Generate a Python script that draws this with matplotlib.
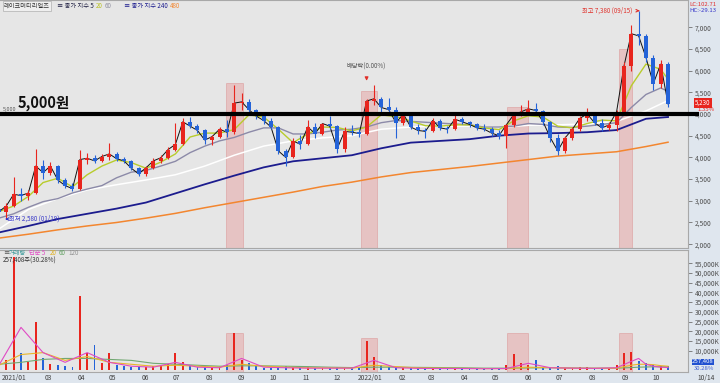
import pandas as pd
import matplotlib
matplotlib.use('Agg')
import matplotlib.pyplot as plt
import matplotlib.dates as mdates
from matplotlib.patches import Rectangle

plt.rcParams['font.family'] = ['Noto Sans CJK KR', 'DejaVu Sans']

# weekly candles (one per week, plotted mid-week)
opens = [2800, 2750, 2880, 3150, 3120, 3180, 3800, 3650, 3800, 3480,
         3350, 3280, 3950, 3980, 3920, 4020, 4080, 3970, 3920, 3750,
         3620, 3760, 3920, 3990, 4180, 4300, 4820, 4720, 4620, 4400,
         4480, 4650, 4580, 5250, 5280, 5100, 4950, 4850, 4700, 4150,
         4000, 4380, 4300, 4700, 4550, 4780, 4720, 4200, 4600, 4580,
         4550, 5300, 5350, 5150, 5100, 4800, 5000, 4700, 4620, 4600,
         4850, 4680, 4650, 4880, 4820, 4760, 4680, 4650, 4560, 4500,
         4750, 4980, 5050, 5120, 5080, 4820, 4450, 4150, 4450, 4650,
         4900, 5000, 4800, 4680, 4750, 5050, 6100, 6850, 6800, 6300,
         5700, 6150]
highs = [2900, 2950, 3550, 3300, 3250, 4200, 3950, 3900, 3820, 3520,
         3400, 4170, 4100, 4050, 4080, 4330, 4120, 4000, 3950, 3780,
         3800, 3980, 4050, 4250, 4790, 4900, 4920, 4760, 4650, 4520,
         4700, 4860, 5670, 5480, 5350, 5120, 5000, 4900, 4720, 4200,
         4450, 4520, 4860, 4800, 4800, 4950, 4750, 4700, 4750, 4650,
         5350, 5670, 5400, 5380, 5150, 5050, 5020, 4780, 4680, 4900,
         4880, 4720, 5000, 4920, 4850, 4800, 4760, 4700, 4620, 4780,
         5050, 5200, 5320, 5250, 5100, 4850, 4550, 4500, 4700, 4950,
         5140, 5050, 4880, 4820, 5100, 6200, 7050, 7380, 6850, 6350,
         6250, 6200]
lows = [2700, 2580, 2850, 3000, 3020, 3150, 3500, 3600, 3400, 3300,
        3220, 3250, 3850, 3880, 3900, 3950, 3920, 3880, 3700, 3560,
        3580, 3740, 3880, 3960, 4150, 4280, 4680, 4560, 4300, 4280,
        4440, 4480, 4550, 5100, 5050, 4880, 4780, 4650, 4080, 3800,
        3980, 4200, 4280, 4450, 4520, 4650, 4100, 4120, 4520, 4480,
        4520, 5200, 5050, 5020, 4450, 4750, 4650, 4550, 4450, 4580,
        4620, 4560, 4640, 4760, 4700, 4620, 4600, 4500, 4420, 4220,
        4700, 4950, 4980, 5000, 4750, 4350, 4050, 4100, 4400, 4600,
        4850, 4750, 4600, 4620, 4600, 5000, 6000, 6600, 6200, 5550,
        5600, 5150]
closes = [2750, 2880, 3150, 3120, 3180, 3800, 3650, 3800, 3480, 3350,
          3280, 3950, 3980, 3920, 4020, 4080, 3970, 3920, 3750, 3620,
          3760, 3920, 3990, 4180, 4300, 4820, 4720, 4620, 4400, 4480,
          4650, 4580, 5250, 5280, 5100, 4950, 4850, 4700, 4150, 4000,
          4380, 4300, 4700, 4550, 4780, 4720, 4200, 4600, 4580, 4550,
          5300, 5350, 5150, 5100, 4800, 5000, 4700, 4620, 4600, 4850,
          4680, 4650, 4880, 4820, 4760, 4680, 4650, 4560, 4500, 4750,
          4980, 5050, 5120, 5080, 4820, 4450, 4150, 4450, 4650, 4900,
          5000, 4800, 4680, 4750, 5050, 6100, 6850, 6800, 6300, 5700,
          6150, 5230]
# largest daily volume in each week, thousand shares
volumes = [2500, 5000, 58000, 9000, 4000, 25000, 6000, 3000, 2500, 2000,
           1800, 38000, 9000, 13000, 3500, 9000, 2500, 2000, 1500, 1500,
           1500, 2000, 2000, 3000, 9000, 4000, 2500, 1500, 1500, 1500,
           1800, 2500, 19000, 5000, 3500, 2000, 1200, 1200, 1800, 2000,
           1800, 1200, 1500, 1200, 1200, 1200, 1500, 1200, 1000, 1000,
           15000, 7000, 2500, 1500, 1500, 1200, 1000, 1000, 1000, 1200,
           1000, 800, 1200, 1000, 800, 800, 800, 800, 1000, 2500,
           8500, 3500, 2500, 5000, 1800, 1500, 2000, 1200, 1200, 1500,
           1500, 1200, 1000, 1200, 2500, 9000, 9500, 4500, 3500, 2500,
           2000, 2000]

# moving averages
fine_weeks = list(range(0, 92, 2)) + [91]
ma20 = [2750, 2880, 3100, 3420, 3520, 3320, 3600, 3800, 3940, 3880,
        3750, 3890, 4080, 4470, 4560, 4560, 4640, 4980, 4930, 4650,
        4340, 4540, 4700, 4690, 4610, 4700, 4980, 4940, 4840, 4730,
        4720, 4750, 4750, 4680, 4640, 4840, 4960, 4930, 4720, 4680,
        4780, 4860, 4840, 5650, 6150, 6030, 5800]
ma60 = [2600, 2700, 2850, 2980, 3050, 3180, 3270, 3350, 3530, 3660,
        3700, 3800, 3910, 4110, 4260, 4380, 4460, 4580, 4680, 4680,
        4540, 4540, 4580, 4630, 4650, 4700, 4800, 4850, 4830, 4810,
        4790, 4770, 4750, 4700, 4700, 4720, 4780, 4760, 4700, 4690,
        4720, 4760, 4800, 5150, 5450, 5600, 5520]
coarse_weeks = list(range(0, 92, 4)) + [91]
ma120 = [2350, 2800, 3050, 3250, 3370, 3480, 3600, 3800, 4050, 4260,
         4380, 4450, 4500, 4650, 4700, 4720, 4720, 4690, 4740, 4750,
         4770, 4830, 5070, 5310]
ma240 = [2270, 2420, 2580, 2700, 2820, 2960, 3170, 3380, 3580, 3770,
         3910, 3980, 4050, 4210, 4340, 4380, 4420, 4500, 4550, 4560,
         4580, 4630, 4890, 4930]
ma480 = [2140, 2230, 2330, 2420, 2500, 2600, 2710, 2840, 2960, 3080,
         3200, 3330, 3430, 3550, 3650, 3720, 3790, 3870, 3950, 4030,
         4080, 4130, 4250, 4350]

# volume moving averages (thousand shares)
vma_weeks = [0, 3, 6, 9, 12, 15, 18, 21, 24, 27, 30, 33, 36, 39, 42,
             45, 48, 51, 54, 57, 60, 63, 66, 69, 72, 75, 78, 81, 84,
             86, 87, 88, 89, 90, 91]
vma5 = [2500, 22000, 9000, 4000, 9000, 4000, 2000, 1500, 4000, 1500,
        1200, 6000, 1500, 1200, 1000, 1000, 1000, 5000, 1200, 900,
        800, 800, 700, 800, 3500, 1200, 1000, 900, 1200, 4500,
        6000, 3000, 2000, 1500, 1300]
vma20 = [2500, 8000, 9000, 5000, 7000, 4000, 3000, 2000, 2500, 2000,
         1500, 3000, 2000, 1500, 1200, 1100, 1000, 2500, 1800, 1100,
         1000, 900, 800, 800, 1500, 1300, 1000, 900, 1000, 2500,
         3000, 3000, 2800, 2300, 2000]
vma60 = [3000, 4000, 5500, 6000, 6000, 5500, 5000, 3500, 3000, 2500,
         2000, 2200, 2200, 2000, 1800, 1500, 1300, 1500, 1500, 1400,
         1300, 1200, 1000, 1000, 1100, 1200, 1100, 1000, 1000, 1300,
         1500, 1600, 1700, 1700, 1700]

# highlighted periods: start, end, top price, top volume
spans = [('2021-08-17', '2021-09-02', 5710, 19000),
         ('2021-12-24', '2022-01-08', 5530, 16500),
         ('2022-05-12', '2022-06-01', 5160, 19000),
         ('2022-08-26', '2022-09-08', 6500, 19000)]

weeks = pd.date_range('2021-01-13', periods=len(closes), freq='7D')
x = mdates.date2num(weeks)

UP = '#e8251e'
DOWN = '#2463d8'

fig = plt.figure(figsize=(7.2, 3.83), dpi=100)
fig.patch.set_facecolor('#dfe6ee')
ax = fig.add_axes([0, 1 - 248 / 383, 688 / 720, 248 / 383])
axv = fig.add_axes([0, 11 / 383, 688 / 720, 122 / 383], sharex=ax)
for a in (ax, axv):
    a.set_facecolor('#e6e6e6')
    for s in a.spines.values():
        s.set_color('#a8a8a8')
        s.set_linewidth(0.8)
    a.spines['left'].set_visible(False)

x0 = mdates.date2num(pd.Timestamp('2021-01-14'))
x1 = mdates.date2num(pd.Timestamp('2022-10-31'))
ax.set_xlim(x0, x1)
ax.set_ylim(1912, 7627)
axv.set_ylim(-980, 61840)

# highlighted periods
for start, end, ptop, vtop in spans:
    s = mdates.date2num(pd.Timestamp(start))
    e = mdates.date2num(pd.Timestamp(end))
    ax.add_patch(Rectangle((s, 1912), e - s, ptop - 1912, facecolor='#e7a7a7',
                           edgecolor='#d99090', lw=0.6, alpha=0.55, zorder=1))
    axv.add_patch(Rectangle((s, -980), e - s, vtop + 980, facecolor='#e7a7a7',
                            edgecolor='#d99090', lw=0.6, alpha=0.55, zorder=1))

# moving averages
fx = x[fine_weeks]
cx = x[coarse_weeks]
ax.plot(cx, ma480, color='#f3862f', lw=1.1, zorder=2)
ax.plot(cx, ma240, color='#1c1c8e', lw=1.3, zorder=2)
ax.plot(cx, ma120, color='white', lw=1.1, zorder=2)
ax.plot(fx, ma60, color='#8c8aa8', lw=1.0, zorder=2)
ax.plot(fx, ma20, color='#b8cc2c', lw=1.0, zorder=2)
ax.plot(x, closes, color='#111111', lw=0.7, zorder=2)

# candles
colors = [UP if c >= o else DOWN for o, c in zip(opens, closes)]
body_lo = [min(o, c) for o, c in zip(opens, closes)]
body_h = [max(abs(c - o), 15) for o, c in zip(opens, closes)]
ax.vlines(x, lows, highs, colors=colors, lw=0.8, zorder=3)
ax.bar(x, body_h, bottom=body_lo, width=3.8, color=colors, zorder=3)

# 5,000 line
ax.axhline(5000, xmin=0, xmax=697 / 688, color='black', lw=3, zorder=4, clip_on=False)
ax.text(mdates.date2num(pd.Timestamp('2021-01-31')), 5080, '5,000원', fontsize=10.5,
        fontweight='bold', color='#111111', va='bottom', ha='left', zorder=5)
ax.text(x0 + 2.5, 5050, '5,000', fontsize=4, color='#555555', va='bottom', ha='left')

# annotations
top_x = mdates.date2num(pd.Timestamp('2022-09-15'))
ax.annotate('최고 7,380 (09/15)', xy=(top_x, 7380), xytext=(top_x - 7, 7380),
            fontsize=4.5, color='#e0302a', va='center', ha='right',
            arrowprops=dict(arrowstyle='->', color='#e0302a', lw=0.8))
low_x = mdates.date2num(pd.Timestamp('2021-01-19'))
ax.annotate('최저 2,580 (01/19)', xy=(low_x, 2580), xytext=(low_x + 4, 2580),
            fontsize=4.5, color='#3434c8', va='center', ha='left',
            arrowprops=dict(arrowstyle='->', color='#3434c8', lw=0.8))
div_x = mdates.date2num(pd.Timestamp('2021-12-29'))
ax.annotate('', xy=(div_x, 5700), xytext=(div_x, 5900),
            arrowprops=dict(arrowstyle='-|>', color='#e0302a', lw=0.8, mutation_scale=5))
ax.text(div_x, 6000, '배당락(0.00%)', fontsize=4.5, color='#555555', ha='center', va='bottom')

# price axis on the right
ax.yaxis.tick_right()
ax.set_yticks(range(2000, 7001, 500))
ax.set_yticklabels([f'{v:,}' for v in range(2000, 7001, 500)])
ax.tick_params(axis='y', labelsize=4.8, colors='#707070', labelcolor='#505050',
               length=3, width=0.6, pad=2)
ax.tick_params(axis='x', length=0, labelbottom=False)

# volume bars
axv.bar(x, volumes, width=1.8, color=colors, zorder=3)
vx = x[vma_weeks]
axv.plot(vx, vma60, color='#72a872', lw=0.8, zorder=4)
axv.plot(vx, vma20, color='#e9b52a', lw=0.8, zorder=4)
axv.plot(vx, vma5, color='#e04ac4', lw=0.8, zorder=4)
axv.yaxis.tick_right()
vt = list(range(10000, 55001, 5000))
axv.set_yticks(vt)
axv.set_yticklabels([f'{v:,}K' for v in vt])
axv.tick_params(axis='y', labelsize=4.8, colors='#707070', labelcolor='#505050',
                length=3, width=0.6, pad=2)

# month labels under the volume panel
months = pd.date_range('2021-03-01', '2022-10-01', freq='MS')
axv.set_xticks(mdates.date2num(months))
axv.set_xticklabels(['2022/01' if m.month == 1 else f'{m.month:02d}' for m in months])
axv.tick_params(axis='x', labelsize=4.8, labelcolor='#404040', length=0, pad=1.5)
fig.text(2 / 720, 1 - 378 / 383, '2021/01', fontsize=4.8, color='#404040', va='center')
fig.text(697 / 720, 1 - 378 / 383, '10/14', fontsize=4.8, color='#404040', va='center')


# legends
def label(px, py, s, color, size=4.5, **kw):
    fig.text(px / 720, 1 - py / 383, s, fontsize=size, color=color, va='center', **kw)


label(4, 6, '레이크머티리얼즈', '#333333',
      bbox=dict(boxstyle='square,pad=0.15', facecolor='#efefef', edgecolor='#b0b0b0', lw=0.5))
label(57, 6, '≡ 종가 지수 5', '#222244')
label(96, 6, '20', '#b8c020')
label(105, 6, '60', '#9090a0')
label(124, 6, '≡ 종가 지수 240', '#1c1c8e')
label(170, 6, '480', '#f3862f')
label(3, 253, '≡', '#555555')
label(9, 253, '거래량', '#3a9a9a')
label(29, 253, '단순 5', '#e04ac4')
label(50, 253, '20', '#e0b020')
label(59, 253, '60', '#60a060')
label(68, 253, '120', '#909090')
label(3, 261, '257,408주(30.28%)', '#333333')

# right side tags
label(689, 4, 'LC:102.71', '#e03030', size=4.3)
label(689, 10, 'HC:-29.13', '#3434c8', size=4.3)
fig.text(703 / 720, 1 - 103 / 383, '5,230', fontsize=4.5, color='white', ha='center', va='center',
         bbox=dict(boxstyle='square,pad=0.15', facecolor='#e8251e', edgecolor='none'))
label(697, 109.5, '1.35%', '#e8251e', size=4.3)
fig.text(703 / 720, 1 - 362 / 383, '257,408', fontsize=4.3, color='white', ha='center', va='center',
         bbox=dict(boxstyle='square,pad=0.1', facecolor='#2050d0', edgecolor='none'))
label(694, 368.5, '30.28%', '#4060d0', size=4.3)

fig.savefig('out.png', dpi=100, facecolor=fig.get_facecolor())
